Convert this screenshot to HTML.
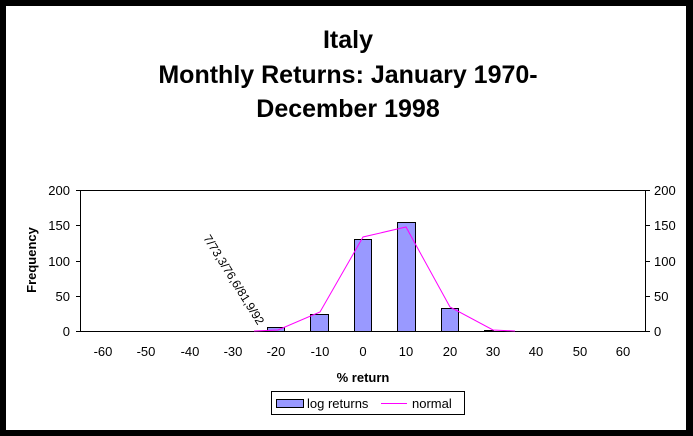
<!DOCTYPE html>
<html><head><style>
body{margin:0;background:#000;}
svg{display:block}
text{font-family:"Liberation Sans",Arial,sans-serif;}
</style></head><body>
<svg width="693" height="436" xmlns="http://www.w3.org/2000/svg">
<rect x="0" y="0" width="693" height="436" fill="#000"/>
<rect x="6" y="6" width="680" height="424" fill="#fff"/>
<g font-weight="bold" font-size="25" text-anchor="middle" fill="#000">
<text x="348" y="48">Italy</text>
<text x="348" y="83">Monthly Returns: January 1970-</text>
<text x="348" y="117">December 1998</text>
</g>
<!-- axes -->
<line x1="80" y1="190.5" x2="646" y2="190.5" stroke="#000"/>
<line x1="80.5" y1="190" x2="80.5" y2="332" stroke="#000"/>
<line x1="645.5" y1="190" x2="645.5" y2="332" stroke="#000"/>
<line x1="80" y1="331.5" x2="646" y2="331.5" stroke="#000"/>
<g stroke="#000">
<line x1="76" y1="190.5" x2="80" y2="190.5"/><line x1="76" y1="225.5" x2="80" y2="225.5"/><line x1="76" y1="261.5" x2="80" y2="261.5"/><line x1="76" y1="296.5" x2="80" y2="296.5"/><line x1="76" y1="331.5" x2="80" y2="331.5"/>
<line x1="646" y1="190.5" x2="650" y2="190.5"/><line x1="646" y1="225.5" x2="650" y2="225.5"/><line x1="646" y1="261.5" x2="650" y2="261.5"/><line x1="646" y1="296.5" x2="650" y2="296.5"/><line x1="646" y1="331.5" x2="650" y2="331.5"/>
</g>
<g font-size="13" fill="#000" text-anchor="end">
<text x="70" y="195">200</text><text x="70" y="230">150</text><text x="70" y="266">100</text><text x="70" y="301">50</text><text x="70" y="336">0</text>
</g>
<g font-size="13" fill="#000" text-anchor="start">
<text x="654" y="195">200</text><text x="654" y="230">150</text><text x="654" y="266">100</text><text x="654" y="301">50</text><text x="654" y="336">0</text>
</g>
<g font-size="13" fill="#000" text-anchor="middle">
<text x="103" y="356">-60</text><text x="146" y="356">-50</text><text x="190" y="356">-40</text><text x="233" y="356">-30</text><text x="276" y="356">-20</text><text x="320" y="356">-10</text><text x="363" y="356">0</text><text x="406" y="356">10</text><text x="450" y="356">20</text><text x="493" y="356">30</text><text x="536" y="356">40</text><text x="580" y="356">50</text><text x="623" y="356">60</text>
</g>
<text x="363" y="382" font-size="13" font-weight="bold" text-anchor="middle">% return</text>
<text transform="translate(36,260) rotate(-90)" font-size="13" font-weight="bold" text-anchor="middle">Frequency</text>
<!-- bars -->
<g fill="#9999ff" stroke="#000" stroke-width="1">
<rect x="267.5" y="327.5" width="17" height="4"/>
<rect x="310.5" y="314.5" width="18" height="17"/>
<rect x="354.5" y="239.5" width="17" height="92"/>
<rect x="397.5" y="222.5" width="18" height="109"/>
<rect x="441.5" y="308.5" width="17" height="23"/>
<rect x="484.5" y="330.5" width="9" height="1"/>
</g>
<polyline fill="none" stroke="#ff00ff" stroke-width="1" points="254,331 278,330 320,312 363,237 406,227 450,307 493,330 515,331"/>
<text transform="translate(203,238) rotate(58)" font-size="12" fill="#000">7/73,3/76,6/81,9/92</text>
<!-- legend -->
<rect x="271.5" y="391.5" width="193" height="23" fill="#fff" stroke="#000"/>
<rect x="276.5" y="399.5" width="27" height="8" fill="#9999ff" stroke="#000"/>
<text x="307" y="408" font-size="13">log returns</text>
<line x1="381" y1="403.5" x2="407" y2="403.5" stroke="#ff00ff"/>
<text x="412" y="408" font-size="13">normal</text>
</svg>
</body></html>
